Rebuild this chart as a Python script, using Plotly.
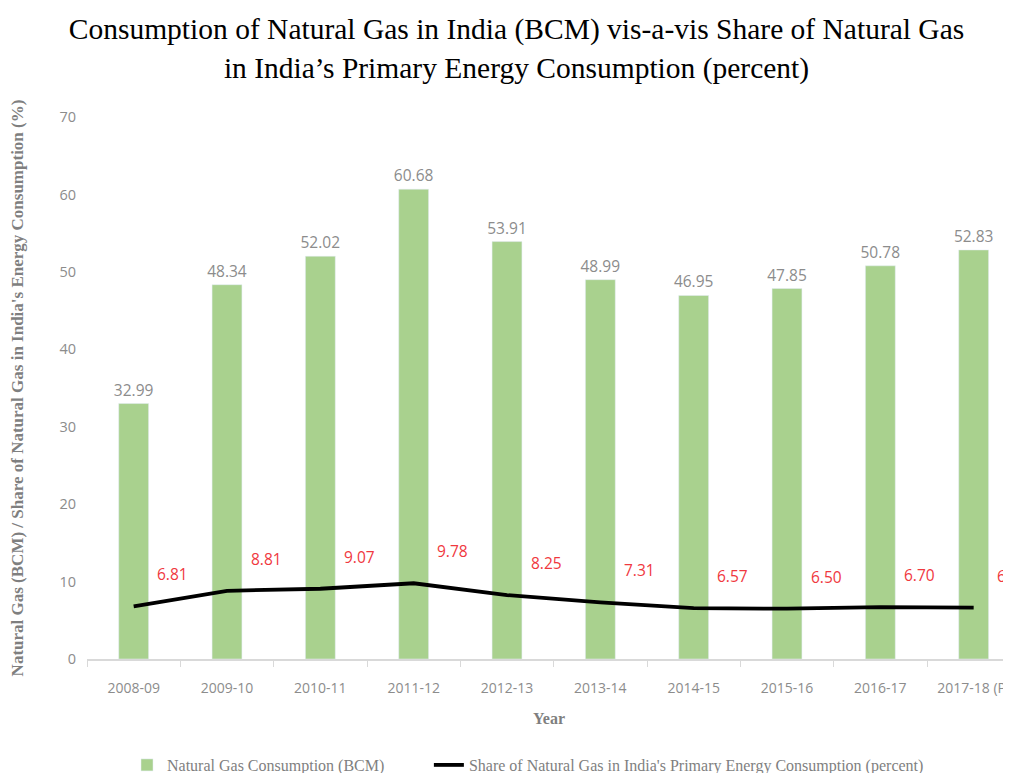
import plotly.graph_objects as go

years = ["2008-09", "2009-10", "2010-11", "2011-12", "2012-13", "2013-14",
         "2014-15", "2015-16", "2016-17", "2017-18 (P)"]
consumption_bcm = [32.99, 48.34, 52.02, 60.68, 53.91, 48.99, 46.95, 47.85, 50.78, 52.83]
share_percent = [6.81, 8.81, 9.07, 9.78, 8.25, 7.31, 6.57, 6.50, 6.70, 6.63]

SERIF = "Liberation Serif, DejaVu Serif, serif"
SANS = "Open Sans, DejaVu Sans, sans-serif"

fig = go.Figure()
fig.add_trace(go.Bar(
    x=years, y=consumption_bcm, name="Natural Gas Consumption (BCM)",
    marker_color="#a9d18e", width=0.32,
    text=[f"{v:.2f}" for v in consumption_bcm], textposition="outside",
    constraintext="none",
    textfont=dict(family=SANS, size=15.5, color="#8c8c8c"),
    cliponaxis=False, legend="legend",
))
fig.add_trace(go.Scatter(
    x=years, y=share_percent, mode="lines",
    name="Share of Natural Gas in India's Primary Energy Consumption (percent)",
    line=dict(color="#000000", width=3.8), legend="legend2",
))
for xv, yv in zip(years, share_percent):
    fig.add_annotation(x=xv, y=yv, text=f"{yv:.2f}", showarrow=False,
                       xshift=39, yshift=32,
                       font=dict(family=SANS, size=15.5, color="#f0383e"))

legend_font = dict(family=SERIF, size=16, color="#7f7f7f")
fig.update_layout(
    width=1003, height=765,
    paper_bgcolor="white", plot_bgcolor="white",
    margin=dict(l=79, r=0, t=109, b=114, autoexpand=False),
    title=dict(
        text="Consumption of Natural Gas in India (BCM) vis-a-vis Share of Natural Gas<br>in India’s Primary Energy Consumption (percent)",
        x=0.507, xanchor="center", y=0.959, yanchor="top",
        font=dict(family=SERIF, size=29.5, color="#000000"),
    ),
    bargap=0.68,
    showlegend=True,
    legend=dict(x=0.0433, xanchor="left", y=-0.1956, yanchor="middle",
                font=legend_font, bgcolor="rgba(0,0,0,0)"),
    legend2=dict(x=0.370, xanchor="left", y=-0.1956, yanchor="middle",
                 font=legend_font, bgcolor="rgba(0,0,0,0)"),
)
fig.update_xaxes(
    type="category", range=[-0.5, 9.4], automargin=False,
    showline=True, linecolor="#d9d9d9", linewidth=2,
    tickson="boundaries", ticks="outside", ticklen=6, tickcolor="#d9d9d9",
    ticklabelstandoff=15,
    tickfont=dict(family=SANS, size=14, color="#8c8c8c"),
    title=dict(text="<b>Year</b>", font=dict(family=SERIF, size=16, color="#7f7f7f"), standoff=17),
    showgrid=False,
)
fig.update_yaxes(
    range=[0, 70], dtick=10, showgrid=False, showline=False, zeroline=False, automargin=False,
    tickfont=dict(family=SANS, size=14.5, color="#8c8c8c"), ticklen=0, ticks="",
    ticklabelstandoff=10,
    title=dict(text="<b>Natural Gas (BCM) / Share of Natural Gas in India's Energy Consumption (%)</b>",
               font=dict(family=SERIF, size=17, color="#7f7f7f"), standoff=40),
)

fig.write_html("out.html")
